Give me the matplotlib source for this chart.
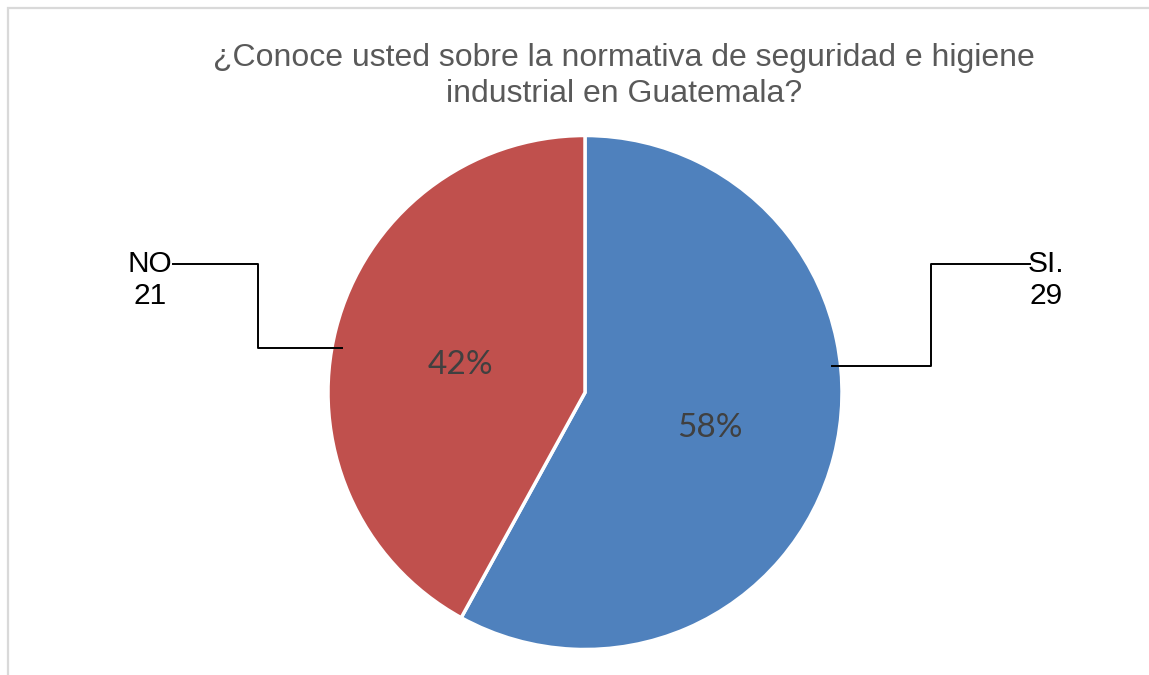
import matplotlib
matplotlib.use("Agg")
import matplotlib.pyplot as plt
from matplotlib.patches import Rectangle
import math

# Data
categories = ["SI.", "NO"]
values = [29, 21]
colors = ["#4F81BD", "#C0504D"]
title = "¿Conoce usted sobre la normativa de seguridad e higiene\nindustrial en Guatemala?"

W, H = 1149, 675
fig = plt.figure(figsize=(W / 100, H / 100), dpi=100)
ax = fig.add_axes([0, 0, 1, 1])

def Y(py):
    return H - py

cx, cy, r = 585, Y(392.5), 257
ax.pie(values, colors=colors, startangle=90, counterclock=False,
       center=(cx, cy), radius=r, frame=True,
       wedgeprops=dict(edgecolor="white", linewidth=2.5))
ax.set_xlim(0, W)
ax.set_ylim(0, H)
ax.set_aspect("equal")
ax.axis("off")

# frame (right/bottom edges outside image)
ax.add_patch(Rectangle((8, -20), W + 20, Y(8) + 20, fill=False,
                       edgecolor="#D9D9D9", linewidth=1.6, clip_on=False))

total = sum(values)
start = 90.0
for v in values:
    sweep = 360.0 * v / total
    mid = math.radians(start - sweep / 2)
    x = cx + 0.5 * r * math.cos(mid)
    y = cy + 0.5 * r * math.sin(mid) - 4
    ax.text(x, y, f"{round(100 * v / total)}%", ha="center", va="center",
            fontsize=24, color="#404040", family=["Lato", "DejaVu Sans"])
    start -= sweep

ax.text(624, Y(76), title, ha="center", va="center", fontsize=23,
        color="#595959", family=["Liberation Sans", "DejaVu Sans"], linespacing=1.27)

# leader lines and labels
lw = 1.4
ax.plot([832, 931, 931, 1030], [Y(366), Y(366), Y(264), Y(264)], color="black", lw=lw)
ax.plot([342, 258, 258, 173], [Y(348), Y(348), Y(264), Y(264)], color="black", lw=lw)

lab_font = dict(fontsize=21.5, color="black", family=["Liberation Sans", "DejaVu Sans"],
                ha="center", va="center", linespacing=1.2)
ax.text(1046, Y(280), f"{categories[0]}\n{values[0]}", **lab_font)
ax.text(150, Y(280), f"{categories[1]}\n{values[1]}", **lab_font)

fig.savefig("out.png", dpi=100)
